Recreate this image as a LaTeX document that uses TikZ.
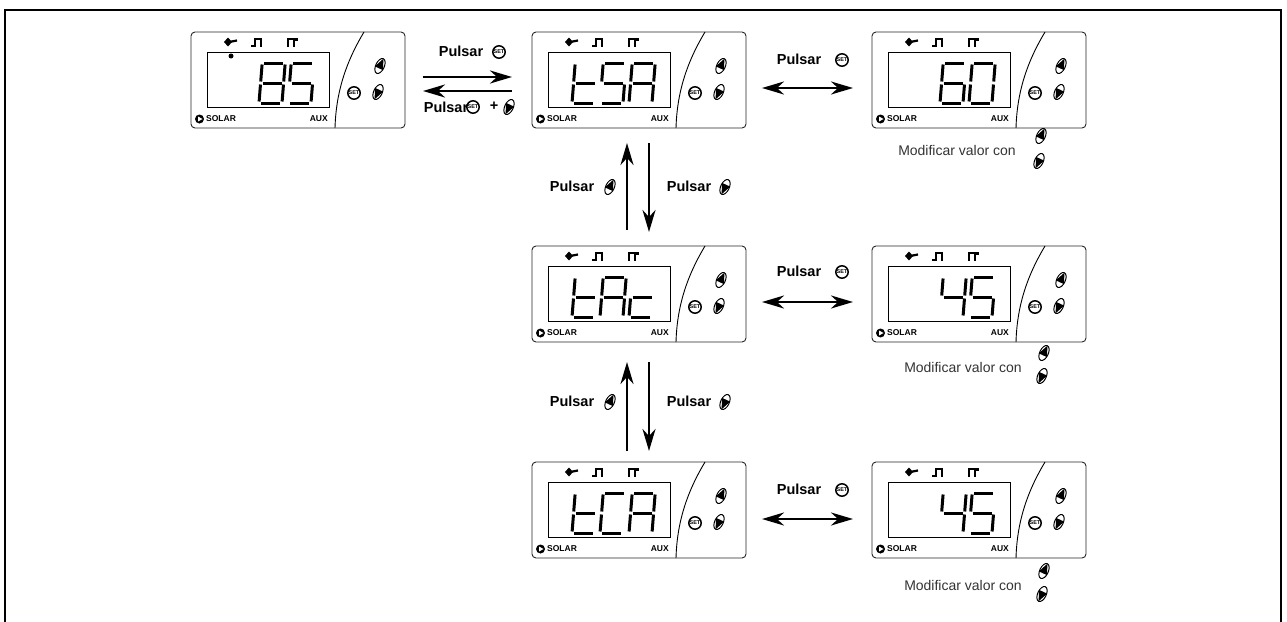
\documentclass[tikz,border=0pt]{standalone}
\usepackage{fontspec}
\setmainfont{Liberation Sans}
\usetikzlibrary{arrows.meta, positioning}

\tikzset{
  panel/.style={draw=black!85, line width=0.9pt, rounded corners=4pt, fill=white,
    minimum width=214pt, minimum height=96pt, inner sep=0pt, outer sep=0pt},
  lcdframe/.style={draw=black, line width=0.8pt},
  segline/.style={line width=3pt},
  seg a/.style={insert path={(2,-40) -- (21,-40)}},
  seg b/.style={insert path={(23,-38.5) -- (23,-21.5)}},
  seg c/.style={insert path={(23,-18.5) -- (23,-1.5)}},
  seg d/.style={insert path={(2,0) -- (21,0)}},
  seg e/.style={insert path={(0,-18.5) -- (0,-1.5)}},
  seg f/.style={insert path={(0,-38.5) -- (0,-21.5)}},
  seg g/.style={insert path={(2,-20) -- (21,-20)}},
  tag/.style={font=\bfseries\fontsize{8.5}{9}\selectfont, inner sep=0pt},
  lbl/.style={font=\bfseries\fontsize{14.5}{16}\selectfont, inner sep=0pt},
  hint/.style={font=\fontsize{14}{16}\selectfont, text=black!80, inner sep=0pt},
  flow/.style={line width=2.6pt, -{Stealth[length=22pt, width=13pt, inset=7pt]}},
  swap/.style={line width=2.6pt, {Stealth[length=22pt, width=13pt, inset=7pt]}-{Stealth[length=22pt, width=13pt, inset=7pt]}},
  setkey/.pic={
    \draw[line width=1.5pt, fill=white] (0,0) circle (6.2);
    \node[font=\bfseries\fontsize{5.5}{6}\selectfont, inner sep=0pt] at (0,0) {SET};
  },
  upkey/.pic={
    \begin{scope}[rotate=-25]
      \begin{scope}
        \clip (0,0) ellipse [x radius=4.3, y radius=8];
        \fill (0,-8) -- (-4.5,2.5) -- (4.5,2.5) -- cycle;
      \end{scope}
      \draw[line width=1pt] (0,0) ellipse [x radius=4.3, y radius=8];
    \end{scope}
  },
  downkey/.pic={
    \begin{scope}[rotate=-25]
      \begin{scope}
        \clip (0,0) ellipse [x radius=4.3, y radius=8];
        \fill (0,8) -- (-4.5,-2.5) -- (4.5,-2.5) -- cycle;
      \end{scope}
      \draw[line width=1pt] (0,0) ellipse [x radius=4.3, y radius=8];
    \end{scope}
  }
}

% one seven-segment character, #1 = left edge, #2 = lit segments
\newcommand{\glyph}[2]{%
  \begin{scope}[shift={(#1,71)}, xslant=0.08]
    \foreach \s in {#2}{\draw[segline, seg \s];}
  \end{scope}}

% front of the controller, #1 = panel node, #2 = what the display shows
\newcommand{\lcd}[2]{%
  \begin{scope}[shift={(#1.north west)}]
    \draw[lcdframe] (16,20) rectangle (138,75);
    \draw[line width=0.9pt] (173,0) .. controls (155,30) and (145,60) .. (144,96);
    \fill (33,10) -- (37,5.5) -- (41,10) -- (37,14.5) -- cycle;
    \draw[line width=2.2pt] (38,10) -- (46,8.5);
    \draw[line width=2.4pt] (60,14) -- (64,14) -- (64,7) -- (70,7) -- (70,15);
    \draw[line width=2.4pt] (97,15) -- (97,7) -- (103,7) -- (103,15) (103,7.5) -- (107,7.5);
    \fill (8.5,87) circle (4.5);
    \fill[white] (7,84.5) -- (11.5,87) -- (7,89.5) -- cycle;
    \node[tag, anchor=west] at (15,87) {SOLAR};
    \node[tag, anchor=east] at (137,87) {AUX};
    \pic at (163,61) {setkey};
    \pic at (189,34) {upkey};
    \pic at (187,60) {downkey};
    #2
  \end{scope}}

\begin{document}
\begin{tikzpicture}[x=1pt, y=-1pt]
\useasboundingbox (0,0) rectangle (1287,621);
\draw[line width=2pt] (5,625) -- (5,10) -- (1281,10) -- (1281,625);

% controllers
\node[panel] (home) at (298,80) {};
\node[panel] (tsa) at (639,80) {};
\node[panel] (tsaval) at (979,80) {};
\node[panel] (tac) at (639,294) {};
\node[panel] (tacval) at (979,294) {};
\node[panel] (tca) at (639,510) {};
\node[panel] (tcaval) at (979,510) {};

\lcd{home}{\fill (40,24) circle (2.5); \glyph{68}{a,b,c,d,e,f,g} \glyph{97}{a,f,g,c,d}}
\lcd{tsa}{\glyph{40}{f,e,g,d} \glyph{68}{a,f,g,c,d} \glyph{97}{a,b,c,e,f,g}}
\lcd{tsaval}{\glyph{68}{a,f,g,e,d,c} \glyph{97}{a,b,c,d,e,f}}
\lcd{tac}{\glyph{40}{f,e,g,d} \glyph{68}{a,b,c,e,f,g} \glyph{97}{g,e,d}}
\lcd{tacval}{\glyph{68}{f,g,b,c} \glyph{97}{a,f,g,c,d}}
\lcd{tca}{\glyph{40}{f,e,g,d} \glyph{68}{a,f,e,d} \glyph{97}{a,b,c,e,f,g}}
\lcd{tcaval}{\glyph{68}{f,g,b,c} \glyph{97}{a,f,g,c,d}}

% top row
\draw[flow, shorten <=18pt, shorten >=20pt] ([yshift=3pt]home.east) -- ([yshift=3pt]tsa.west);
\draw[flow, shorten <=20pt, shorten >=18pt] ([yshift=-11pt]tsa.west) -- ([yshift=-11pt]home.east);
\node[lbl] (enterlbl) at (461,51) {Pulsar};
\pic at (499,52) {setkey};
\node[lbl] (exitlbl) at (446,107) {Pulsar};
\pic at (473,107) {setkey};
\node[lbl] (plus) at (494,106) {+};
\pic at (509,107) {downkey};

% value screens
\draw[swap, shorten <=16pt, shorten >=19pt] ([yshift=-8pt]tsa.east) -- ([yshift=-8pt]tsaval.west);
\draw[swap, shorten <=16pt, shorten >=19pt] ([yshift=-8pt]tac.east) -- ([yshift=-8pt]tacval.west);
\draw[swap, shorten <=16pt, shorten >=19pt] ([yshift=-9pt]tca.east) -- ([yshift=-9pt]tcaval.west);
\node[lbl] (setlbl1) at (799,59) {Pulsar};
\pic at (842,60) {setkey};
\node[lbl] (setlbl2) at (799,271) {Pulsar};
\pic at (842,272) {setkey};
\node[lbl] (setlbl3) at (799,489) {Pulsar};
\pic at (842,490) {setkey};

% scrolling
\draw[flow, shorten <=16pt, shorten >=15pt] ([xshift=-12pt]tac.north) -- ([xshift=-12pt]tsa.south);
\draw[flow, shorten <=15pt, shorten >=14pt] ([xshift=10pt]tsa.south) -- ([xshift=10pt]tac.north);
\draw[flow, shorten <=11pt, shorten >=20pt] ([xshift=-12pt]tca.north) -- ([xshift=-12pt]tac.south);
\draw[flow, shorten <=20pt, shorten >=11pt] ([xshift=10pt]tac.south) -- ([xshift=10pt]tca.north);
\node[lbl] (uplbl1) at (572,186) {Pulsar};
\pic at (610,187) {upkey};
\node[lbl] (dnlbl1) at (689,186) {Pulsar};
\pic at (725,187) {downkey};
\node[lbl] (uplbl2) at (572,401) {Pulsar};
\pic at (610,402) {upkey};
\node[lbl] (dnlbl2) at (689,401) {Pulsar};
\pic at (725,402) {downkey};

% hints
\node[hint] (hint1) at (957,150) {Modificar valor con};
\pic at (1041,136) {upkey};
\pic at (1039,161) {downkey};
\node[hint] (hint2) at (963,367) {Modificar valor con};
\pic at (1044,353) {upkey};
\pic at (1042,376) {downkey};
\node[hint] (hint3) at (963,585) {Modificar valor con};
\pic at (1044,571) {upkey};
\pic at (1042,594) {downkey};
\end{tikzpicture}
\end{document}
